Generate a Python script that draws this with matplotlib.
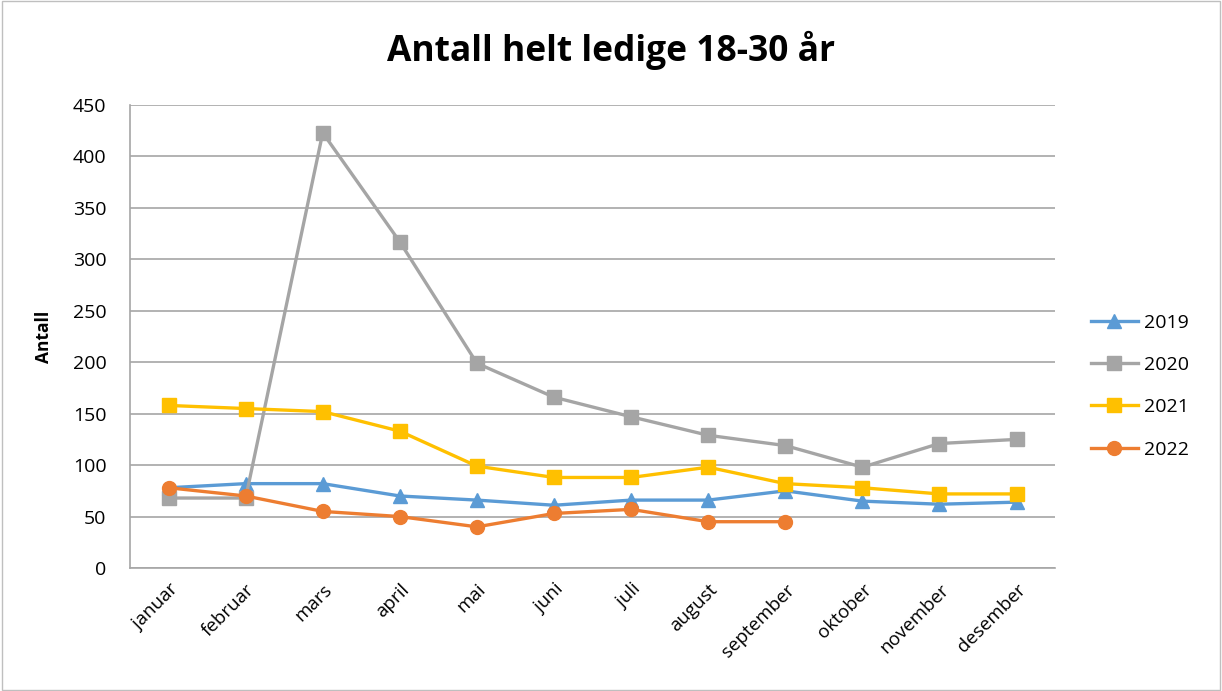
import matplotlib
matplotlib.use("Agg")
import matplotlib.pyplot as plt
from matplotlib.patches import Rectangle

plt.rcParams['font.family'] = ['Open Sans', 'DejaVu Sans']

months = ['januar', 'februar', 'mars', 'april', 'mai', 'juni', 'juli',
          'august', 'september', 'oktober', 'november', 'desember']
y2019 = [78, 82, 82, 70, 66, 61, 66, 66, 75, 65, 62, 64]
y2020 = [68, 68, 423, 317, 199, 166, 147, 129, 119, 98, 121, 125]
y2021 = [158, 155, 152, 133, 99, 88, 88, 98, 82, 78, 72, 72]
y2022 = [78, 70, 55, 50, 40, 53, 57, 45, 45]

fig = plt.figure(figsize=(12.22, 6.91), dpi=100)
ax = fig.add_axes([0.1064, 0.178, 0.757, 0.670])

x = list(range(len(months)))
ax.plot(x, y2019, color='#5B9BD5', lw=2.4, marker='^', ms=10, label='2019')
ax.plot(x, y2020, color='#A5A5A5', lw=2.4, marker='s', ms=10, label='2020')
ax.plot(x, y2021, color='#FFC000', lw=2.4, marker='s', ms=10, label='2021')
ax.plot(x[:len(y2022)], y2022, color='#ED7D31', lw=2.4, marker='o', ms=10, label='2022')

ax.set_xlim(-0.5, 11.5)
ax.set_ylim(0, 450)
ax.set_yticks(range(0, 451, 50))
ax.set_xticks(x)
ax.set_xticklabels(months, rotation=45, ha='right', rotation_mode='anchor', fontsize=13.5)
ax.tick_params(axis='y', labelsize=14, length=0, pad=17)
ax.tick_params(axis='x', length=0, pad=9)
ax.yaxis.grid(True, color='#A6A6A6', lw=1.2)
ax.set_axisbelow(True)
for s in ['top', 'right']:
    ax.spines[s].set_visible(False)
for s in ['left', 'bottom']:
    ax.spines[s].set_color('#A6A6A6')
    ax.spines[s].set_linewidth(1.2)

ax.set_ylabel('Antall', fontsize=12.5, fontweight='bold')
ax.yaxis.set_label_coords(-0.083, 0.5)
fig.text(0.5, 0.927, 'Antall helt ledige 18-30 år', ha='center', va='center',
         fontsize=25.5, fontweight='bold')

ax.legend(loc='center left', bbox_to_anchor=(1.02, 0.393), frameon=False,
          fontsize=14, labelspacing=1.25, handlelength=2.4, handletextpad=0.3)

fig.patches.append(Rectangle((0.002, 0.002), 0.996, 0.996, transform=fig.transFigure,
                             fill=False, edgecolor='#BFBFBF', lw=1))

fig.savefig('out.png', dpi=100)
